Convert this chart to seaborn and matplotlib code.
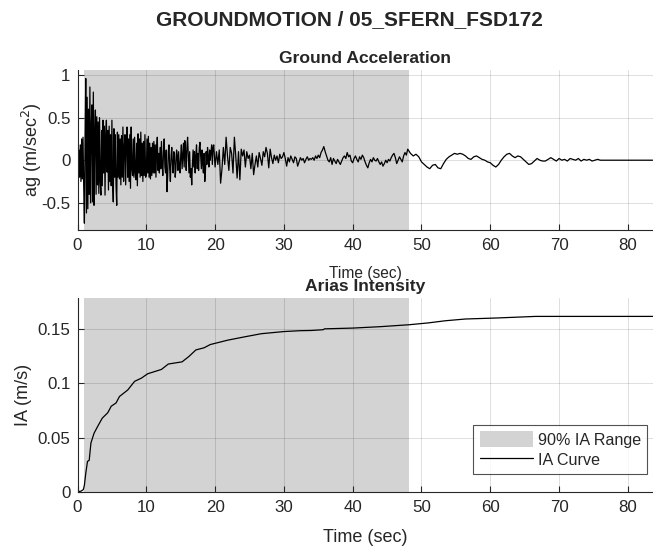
import numpy as np
import seaborn as sns
import matplotlib
matplotlib.use("Agg")
import matplotlib.pyplot as plt
from matplotlib.patches import Patch
from matplotlib.lines import Line2D

# ground acceleration, hundredths of m/s^2 in segments
acc_a_start, acc_a_dt = 0.0, 0.1   # 0 - 12 s
acc_a = [
    0, -10, 12, -20, 18, -25, 25, -22, 27, -30,
    -74, 20, 96, -62, 74, -57, 60, -40, 86, -50,
    40, 65, -49, 80, -53, 30, 59, -40, 51, -29,
    45, -39, 50, -25, -41, 35, -30, 47, -15, 40,
    -41, 30, 47, -14, 35, -35, 40, -25, 30, -30,
    47, -25, -49, 37, -20, 30, -30, -53, 33, -20,
    30, -22, 25, -29, 29, -20, 39, -25, 15, 30,
    -29, 20, 39, -20, 25, -25, 30, -33, 39, -10,
    -18, 25, -20, 27, -15, -23, 20, -30, 31, -15,
    25, -20, 33, -18, 20, -25, 22, -18, 30, -20,
    -18, 25, -15, 28, -20, 20, -22, 15, -18, 20,
    -15, 22, -15, 18, -20, 15, 27, -12, 8, -15,
]
acc_b_start, acc_b_dt = 12.0, 0.1   # 12 - 20 s
acc_b = [
    15, -10, 22, -5, -18, 10, 25, -8, -15, 12,
    -37, -20, 10, 18, -10, -25, 5, 15, -5, -15,
    10, 8, -20, -10, 12, 5, -12, 10, -8, -15,
    5, 18, -10, 5, 20, -8, 23, 10, -12, 15,
    27, 5, -15, 10, -20, -10, -29, -5, 12, -8,
    10, -15, 5, 18, -10, 8, -12, 15, 21, 5,
    -10, 12, -5, -15, 8, -25, -12, 10, -5, 15,
    5, -8, 12, 0, 10, 18, -5, 15, 18, 5,
]
acc_c_start, acc_c_dt = 20.0, 0.2   # 20 - 48 s
acc_c = [
    -8, 10, -5, 12, -27, -10, 15, -5, 27, 5,
    -12, 15, 8, -15, 27, 5, -21, 10, -23, 13,
    5, 12, -8, 10, 2, 6, -10, 8, -17, -5,
    5, -8, 9, 2, -6, 10, 4, 15, 8, -9,
    13, 3, -4, 6, 0, 5, -3, 7, 2, 4,
    9, 2, -7, 3, -2, 5, 1, -3, 4, 2,
    -7, -2, 3, 0, 2, -3, 1, 4, 0, 2,
    1, 3, 0, 5, 2, 6, 3, 9, 12, 16,
    10, 5, 0, -2, 3, -5, 2, -1, -4, 1,
    -2, -5, -1, 3, 5, 2, 9, 4, 6, -1,
    -3, 2, 5, 1, -2, 4, 1, 6, 3, -2,
    -6, -9, -3, 1, -2, 3, 0, -1, 2, -2,
    -5, -2, -7, -4, 0, -3, 1, -1, 3, 6,
    8, 3, -4, 0, 4, 1, -2, 5, 9, 6,
]
acc_d_start, acc_d_dt = 48.0, 0.4   # 48 - 84 s
acc_d = [
    13, 8, 5, 7, 4, -2, -5, -8, -10, -6,
    -5, -9, -10, -4, 1, 4, 6, 8, 7, 8,
    7, 5, 2, 1, 4, 5, 3, 1, 0, -2,
    -3, -6, -8, -5, 0, 4, 7, 8, 5, 3,
    5, 4, 1, -2, -5, -4, -1, 2, 0, -1,
    -1, 1, 3, 1, -1, 2, 0, 1, -1, 2,
    1, 0, 2, -1, 1, 0, 1, -1, 0, 1,
    0, 0, 0, 0, 0, 0, 0, 0, 0, 0,
    0, 0, 0, 0, 0, 0, 0, 0, 0, 0,
]

# arias intensity curve (s, m/s)
ia_time = [0, 0.5, 0.85, 1.0, 1.2, 1.45, 1.7, 1.95, 2.4, 2.9, 3.6, 4.4, 4.9, 5.6, 6.1,
           7.3, 8.3, 9.3, 10.2, 12.2, 13.2, 15.2, 16.2, 17.2, 18.4, 19.3, 21.8, 24.2,
           26.7, 30, 32.4, 34, 35.7, 35.9, 40, 44, 48.2, 51, 53.5, 56.4, 60.8, 66.6,
           70, 83.6]
ia_vals = [0, 0.0005, 0.002, 0.006, 0.017, 0.028, 0.029, 0.045, 0.054, 0.060, 0.068,
           0.073, 0.079, 0.082, 0.088, 0.094, 0.102, 0.105, 0.109, 0.113, 0.118, 0.120,
           0.125, 0.131, 0.133, 0.136, 0.140, 0.143, 0.146, 0.148, 0.1488, 0.149,
           0.1497, 0.1505, 0.1512, 0.1525, 0.1543, 0.156, 0.158, 0.1596, 0.1605, 0.162,
           0.162, 0.162]

ia_range = (1.0, 48.2)   # 5% - 95% of IA
t_end = 83.65

segments = [(acc_a_start, acc_a_dt, acc_a), (acc_b_start, acc_b_dt, acc_b),
            (acc_c_start, acc_c_dt, acc_c), (acc_d_start, acc_d_dt, acc_d)]
acc_t = np.concatenate([s + dt * np.arange(len(v)) for s, dt, v in segments])
acc = np.concatenate([np.array(v) / 100.0 for s, dt, v in segments])

sns.set_style("white")
plt.rcParams['font.family'] = ['Liberation Sans', 'DejaVu Sans']
plt.rcParams['font.size'] = 12

fig = plt.figure(figsize=(6.53, 5.48), dpi=100)
ax0 = fig.add_axes([0.1187, 0.5803, 0.8813, 0.292])
ax1 = fig.add_axes([0.1187, 0.1027, 0.8813, 0.3535])

shade = '#d3d3d3'
spine_c = '#262626'


def style(ax):
    ax.set_xlim(0, t_end)
    ax.set_xticks(range(0, 81, 10))
    ax.grid(True, color='k', alpha=0.15, lw=0.6)
    ax.set_axisbelow('line')
    for side in ['top', 'right']:
        ax.spines[side].set_visible(False)
    for side in ['left', 'bottom']:
        ax.spines[side].set_color(spine_c)
        ax.spines[side].set_linewidth(0.8)
    ax.tick_params(direction='in', length=4, width=0.8, colors=spine_c,
                   labelsize=12.2, labelcolor=spine_c, left=True, bottom=True)
    ax.tick_params(axis='x', pad=6)
    ax.tick_params(axis='y', pad=5)


# top: ground acceleration
ax0.axvspan(*ia_range, color=shade, lw=0, zorder=1)
sns.lineplot(x=acc_t, y=acc, ax=ax0, color='k', lw=0.9, estimator=None, sort=False)
style(ax0)
ax0.set_ylim(-0.82, 1.06)
ax0.set_yticks([-0.5, 0, 0.5, 1])
ax0.set_yticklabels(['-0.5', '0', '0.5', '1'])
ax0.set_title('Ground Acceleration', fontweight='bold', fontsize=12.6, pad=5)
ax0.set_xlabel('Time (sec)', fontsize=11.2, labelpad=9, color=spine_c)
ax0.set_ylabel('ag (m/sec$^2$)', fontsize=13, color=spine_c, labelpad=-2)

# bottom: arias intensity
ax1.axvspan(*ia_range, color=shade, lw=0, zorder=1)
sns.lineplot(x=ia_time, y=ia_vals, ax=ax1, color='k', lw=0.9, estimator=None, sort=False)
style(ax1)
ax1.set_ylim(0, 0.179)
ax1.set_yticks([0, 0.05, 0.1, 0.15])
ax1.set_yticklabels(['0', '0.05', '0.1', '0.15'])
ax1.set_title('Arias Intensity', fontweight='bold', fontsize=12.6, pad=5)
ax1.set_xlabel('Time (sec)', fontsize=13, labelpad=10, color=spine_c)
ax1.set_ylabel('IA (m/s)', fontsize=13, color=spine_c, labelpad=4)

handles = [Patch(facecolor=shade, edgecolor='none', label='90% IA Range'),
           Line2D([], [], color='k', lw=0.9, label='IA Curve')]
leg = ax1.legend(handles=handles, loc='lower right', bbox_to_anchor=(0.99, 0.09),
                 fontsize=11.6, frameon=True, fancybox=False, handlelength=3.3,
                 handleheight=1.1, borderpad=0.4, labelspacing=0.25,
                 handletextpad=0.3, borderaxespad=0)
leg.get_frame().set_edgecolor(spine_c)
leg.get_frame().set_linewidth(0.8)

fig.suptitle('GROUNDMOTION / 05_SFERN_FSD172', fontweight='bold', fontsize=15,
             x=0.535, y=0.982)

fig.savefig('out.png', dpi=100)
